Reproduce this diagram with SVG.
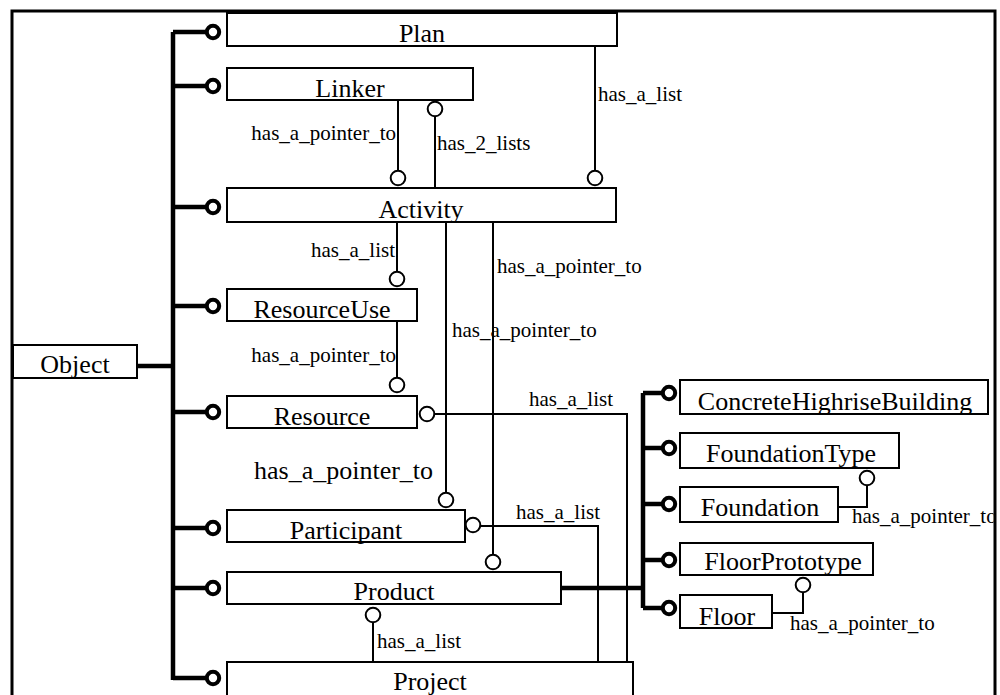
<svg xmlns="http://www.w3.org/2000/svg" width="1000" height="695" viewBox="0 0 1000 695">
<style>
.box{fill:#fff;stroke:#000;stroke-width:2}
.nt{font-size:26px;text-anchor:middle;fill:#000}
.lb{font-size:21px;fill:#000}
.big{font-size:26px}
.ln{fill:none;stroke:#000;stroke-width:2}
.th{fill:none;stroke:#000;stroke-width:4.5}
.oc{fill:#fff;stroke:#000;stroke-width:2}
.bc{fill:#fff;stroke:#000;stroke-width:4}
</style>
<defs>
<clipPath id="frameClip"><rect x="0" y="0" width="993.5" height="695"/></clipPath>
</defs>
<rect x="0" y="0" width="1000" height="695" fill="#fff"/>
<rect id="frame" x="12" y="11" width="983" height="700" fill="none" stroke="#000" stroke-width="3"/>
<g id="connectors">
<path class="th" d="M173,32 V680"/>
<path class="th" d="M137,366 H173"/>
<path class="th" d="M173,32 H207 M173,86 H207 M173,207 H207 M173,306 H207 M173,412 H207 M173,528 H207 M173,588 H207 M173,678 H207"/>
<circle class="bc" cx="213" cy="32" r="6.2"/>
<circle class="bc" cx="213" cy="86" r="6.2"/>
<circle class="bc" cx="213" cy="207" r="6.2"/>
<circle class="bc" cx="213" cy="306" r="6.2"/>
<circle class="bc" cx="213" cy="412" r="6.2"/>
<circle class="bc" cx="213" cy="528" r="6.2"/>
<circle class="bc" cx="213" cy="588" r="6.2"/>
<circle class="bc" cx="213" cy="678" r="6.2"/>
<path class="th" d="M561,588 H643 M643,393 V608"/>
<path class="th" d="M643,393 H663 M643,448 H663 M643,504 H663 M643,560 H663 M643,608 H663"/>
<circle class="bc" cx="669" cy="393" r="6.2"/>
<circle class="bc" cx="669" cy="448" r="6.2"/>
<circle class="bc" cx="669" cy="504" r="6.2"/>
<circle class="bc" cx="669" cy="560" r="6.2"/>
<circle class="bc" cx="669" cy="608" r="6.2"/>
<path class="ln" d="M595,46 V170"/>
<circle class="oc" cx="595" cy="178" r="7.3"/>
<path class="ln" d="M398,100 V170"/>
<circle class="oc" cx="398" cy="178" r="7.3"/>
<path class="ln" d="M435,188 V117"/>
<circle class="oc" cx="435" cy="109" r="7.3"/>
<path class="ln" d="M397,222 V271"/>
<circle class="oc" cx="397" cy="279" r="7.3"/>
<path class="ln" d="M397,321 V377"/>
<circle class="oc" cx="397" cy="385" r="7.3"/>
<path class="ln" d="M446,222 V492"/>
<circle class="oc" cx="446" cy="500" r="7.3"/>
<path class="ln" d="M493,222 V554"/>
<circle class="oc" cx="493" cy="562" r="7.3"/>
<path class="ln" d="M435,414 H627 V662"/>
<circle class="oc" cx="427" cy="414" r="7.3"/>
<path class="ln" d="M481,526 H598 V662"/>
<circle class="oc" cx="473" cy="525" r="7.3"/>
<path class="ln" d="M373,662 V623"/>
<circle class="oc" cx="373" cy="615" r="7.3"/>
<path class="ln" d="M838,507 H867 V486"/>
<circle class="oc" cx="867" cy="478" r="7.3"/>
<path class="ln" d="M772,613 H803 V593"/>
<circle class="oc" cx="803" cy="585" r="7.3"/>
</g>
<g id="labels" font-family="'Liberation Serif', 'DejaVu Serif', serif">
<text class="lb" x="598" y="101">has_a_list</text>
<text class="lb" x="396" y="140" text-anchor="end">has_a_pointer_to</text>
<text class="lb" x="437" y="150">has_2_lists</text>
<text class="lb" x="395" y="257" text-anchor="end">has_a_list</text>
<text class="lb" x="497" y="273">has_a_pointer_to</text>
<text class="lb" x="452" y="337">has_a_pointer_to</text>
<text class="lb" x="396" y="362" text-anchor="end">has_a_pointer_to</text>
<text class="lb" x="529" y="406">has_a_list</text>
<text class="lb big" x="254" y="479">has_a_pointer_to</text>
<text class="lb" x="516" y="519">has_a_list</text>
<text class="lb" x="377" y="648">has_a_list</text>
<text class="lb" x="852" y="523" clip-path="url(#frameClip)">has_a_pointer_to</text>
<text class="lb" x="790" y="630">has_a_pointer_to</text>
</g>
<g id="nodes" font-family="'Liberation Serif', 'DejaVu Serif', serif">
<g id="Plan"><rect class="box" x="227" y="13" width="390" height="33"/><text class="nt" x="422" y="42">Plan</text></g>
<g id="Linker"><rect class="box" x="227" y="68" width="246" height="32"/><text class="nt" x="350" y="97">Linker</text></g>
<g id="Activity"><rect class="box" x="227" y="188" width="389" height="34"/><text class="nt" x="421" y="218">Activity</text></g>
<g id="ResourceUse"><rect class="box" x="227" y="289" width="190" height="32"/><text class="nt" x="322" y="318">ResourceUse</text></g>
<g id="Object"><rect class="box" x="13" y="345" width="124" height="33"/><text class="nt" x="75" y="373">Object</text></g>
<g id="Resource"><rect class="box" x="227" y="396" width="190" height="32"/><text class="nt" x="322" y="425">Resource</text></g>
<g id="Participant"><rect class="box" x="227" y="510" width="238" height="32"/><text class="nt" x="346" y="539">Participant</text></g>
<g id="Product"><rect class="box" x="227" y="572" width="334" height="32"/><text class="nt" x="394" y="600">Product</text></g>
<g id="Project"><rect class="box" x="227" y="662" width="406" height="50"/><text class="nt" x="430" y="690">Project</text></g>
<g id="ConcreteHighriseBuilding"><rect class="box" x="680" y="380" width="308" height="34"/><text class="nt" x="835" y="410">ConcreteHighriseBuilding</text></g>
<g id="FoundationType"><rect class="box" x="680" y="433" width="219" height="35"/><text class="nt" x="791" y="462">FoundationType</text></g>
<g id="Foundation"><rect class="box" x="680" y="487" width="158" height="35"/><text class="nt" x="760" y="516">Foundation</text></g>
<g id="FloorPrototype"><rect class="box" x="680" y="543" width="193" height="32"/><text class="nt" x="783" y="570">FloorPrototype</text></g>
<g id="Floor"><rect class="box" x="680" y="595" width="92" height="33"/><text class="nt" x="727" y="625">Floor</text></g>
</g>
</svg>
